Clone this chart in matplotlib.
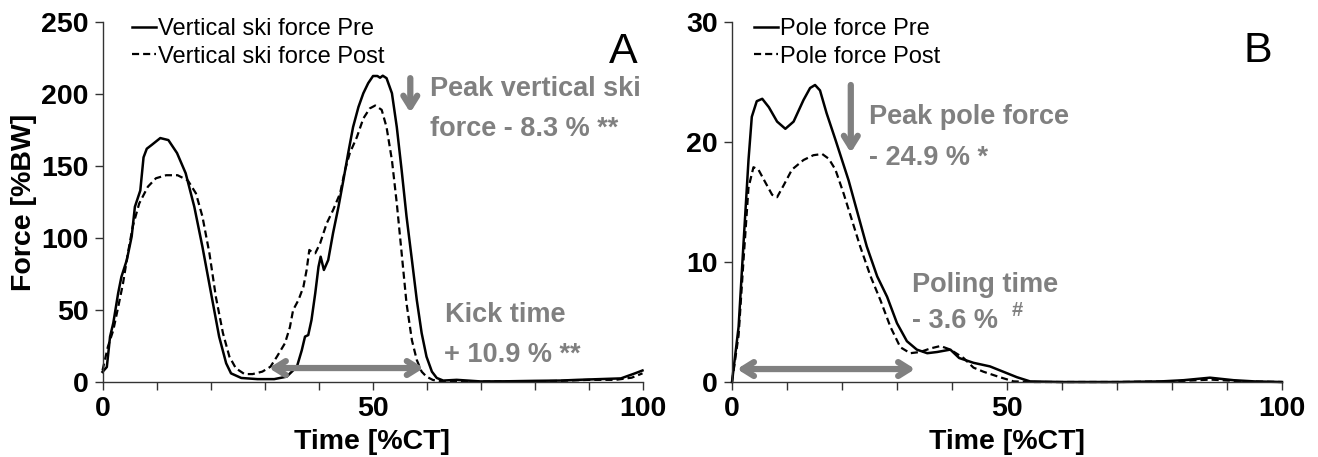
import matplotlib
matplotlib.use("Agg")
import matplotlib.pyplot as plt

plt.rcParams['font.family'] = ['Liberation Sans', 'DejaVu Sans']

# Panel A: vertical ski force [%BW] over time [%CT]
ski_pre_x = [0, 0.8, 1.4, 2.0, 2.9, 3.5, 4.5, 5.4, 6.0, 7.0, 7.6, 8.2, 9.1, 10.7, 12.2,
             13.8, 15.4, 17.0, 18.5, 20.1, 21.6, 22.9, 23.8, 25.7, 28.7, 31.8, 34.1,
             36.0, 36.9, 37.5, 38.1, 38.7, 39.4, 40.0, 40.4, 41.0, 41.8, 42.7, 43.7,
             44.6, 45.5, 46.4, 47.4, 48.3, 49.2, 50.1, 50.9, 51.4, 51.9, 52.6, 53.6,
             54.5, 55.4, 56.3, 57.3, 58.2, 59.1, 60.0, 61.0, 61.9, 63.1, 65.6, 70,
             75, 80, 84.8, 88, 92, 96, 98.6, 100]
ski_pre_y = [7, 10.4, 31.5, 41, 61.7, 73, 84.7, 101, 121.7, 133, 156, 162, 164.6, 169.4,
             168, 159, 145, 121.7, 94, 61.7, 31.5, 13, 6, 2.8, 2, 2, 3.7,
             10.6, 22, 31.5, 32.6, 43, 61.7, 80, 87, 77.8, 84.7, 103.5, 121.7,
             140, 159, 177, 191, 200.5, 207.5, 212.5, 212.5, 211.3, 212.7, 211, 200.5,
             177, 147, 115, 84.7, 57, 34, 17.6, 7.2, 2.8, 1, 1.5, 0.4,
             0.5, 0.8, 1, 1.5, 2, 2.5, 6, 8]
ski_post_x = [0, 1.0, 2.0, 2.9, 3.8, 4.7, 5.6, 6.8, 8.4, 9.9, 11.8, 13.9, 15.8, 17.3,
              18.5, 19.8, 21.0, 22.3, 23.5, 24.7, 26.3, 27.8, 29.6, 31.1, 32.3, 33.8,
              34.7, 35.3, 36.3, 37.2, 37.8, 38.3, 38.7, 39.4, 40.3, 41.5, 42.7, 44.0,
              44.9, 45.8, 47.1, 48.3, 49.5, 50.5, 51.7, 52.6, 53.6, 54.5, 55.4, 56.3,
              57.3, 58.2, 59.1, 60.0, 61.2, 63, 66, 70, 75, 80, 85, 90, 95, 98, 100]
ski_post_y = [8, 24.5, 36, 52, 68.5, 89.4, 108, 124, 135.6, 141.5, 143.6, 143.6, 140, 131,
              115, 89.4, 59, 34, 17.6, 9.5, 5.5, 5.5, 7.2, 10.6, 17.6, 27,
              38, 50, 57, 66, 77.8, 91.7, 90.5, 89.4, 96.3, 110, 119.4, 131,
              147, 159, 170, 183, 190, 192, 189, 177, 154, 124, 89.4, 54.6,
              29, 15.3, 7.2, 3.7, 1.4, 0.5, 0.4, 0.3, 0.4, 0.5, 0.8, 1.5, 1.5, 3, 6]

# Panel B: pole force [%BW] over time [%CT]
pole_pre_x = [0, 1.2, 2.1, 3.0, 3.6, 4.5, 5.5, 6.7, 8.2, 9.7, 11.2, 13.0, 14.2, 15.1,
              16.0, 17.2, 18.8, 20.0, 21.2, 22.7, 24.5, 26.4, 28.2, 30.0, 31.8, 33.6,
              35.5, 37.3, 39.7, 41.3, 43.9, 46.9, 49.3, 51.8, 54.2, 60, 70, 78, 82.1,
              86.9, 91.2, 95, 100]
pole_pre_y = [0, 4.6, 11.6, 18.5, 22.1, 23.4, 23.6, 22.9, 21.7, 21.1, 21.7, 23.5, 24.5, 24.75,
              24.3, 22.4, 20.2, 18.5, 16.8, 14.3, 11.3, 8.8, 7.1, 4.9, 3.4, 2.7,
              2.4, 2.5, 2.7, 2.0, 1.6, 1.3, 0.86, 0.4, 0.05, 0, 0, 0.05, 0.15,
              0.36, 0.15, 0.05, 0]
pole_post_x = [0, 1.2, 2.1, 3.0, 3.9, 4.8, 6.1, 7.3, 8.2, 9.4, 10.9, 13.0, 14.8, 16.4,
               17.6, 18.8, 20.3, 21.8, 23.3, 25.2, 27.0, 28.8, 30.6, 32.4, 34.2, 36.1,
               37.9, 39.7, 42.1, 43.9, 45.7, 48.7, 51.2, 55, 70, 80, 87, 93, 100]
pole_post_y = [0, 3.9, 10.2, 16.2, 17.9, 17.7, 16.6, 15.6, 15.4, 16.4, 17.7, 18.5, 18.9, 19.0,
               18.6, 17.7, 15.7, 13.5, 11.3, 8.8, 6.8, 4.6, 2.9, 2.4, 2.5, 2.8,
               3.0, 2.7, 2.0, 1.2, 0.86, 0.4, 0.05, 0, 0, 0.05, 0.2, 0.05, 0]

x_ticks = list(range(0, 101, 10))
x_labels = ['0', '', '', '', '', '50', '', '', '', '', '100']

GRAY = '#808080'
dash = (0, (3.2, 1.8))

fig = plt.figure(figsize=(13.18, 4.57), dpi=100)
axA = fig.add_axes([102.5 / 1318, 1 - 382 / 457, 540 / 1318, 360 / 457])
axB = fig.add_axes([732 / 1318, 1 - 382 / 457, 550 / 1318, 360 / 457])


def style(ax, ymax, yticks):
    ax.set_xlim(0, 100)
    ax.set_ylim(0, ymax)
    ax.set_xticks(x_ticks)
    ax.set_xticklabels(x_labels)
    ax.set_yticks(yticks)
    for s in ['top', 'right']:
        ax.spines[s].set_visible(False)
    for s in ['left', 'bottom']:
        ax.spines[s].set_color('#333333')
        ax.spines[s].set_linewidth(1.0)
    ax.tick_params(direction='out', length=6, width=1, color='#333333',
                   labelsize=20.5, pad=4)
    for lab in ax.get_xticklabels() + ax.get_yticklabels():
        lab.set_fontweight('bold')
    ax.set_xlabel('Time [%CT]', fontsize=20.5, fontweight='bold', labelpad=5)


# ---- A
axA.plot(ski_pre_x, ski_pre_y, color='black', lw=1.8, clip_on=False,
         label='Vertical ski force Pre')
axA.plot(ski_post_x, ski_post_y, color='black', lw=1.6, ls=dash, clip_on=False,
         label='Vertical ski force Post')
style(axA, 250, [0, 50, 100, 150, 200, 250])
axA.set_ylabel('Force [%BW]', fontsize=20.5, fontweight='bold', labelpad=3)
axA.legend(loc='upper left', bbox_to_anchor=(0.055, 1.01), frameon=False,
           fontsize=17, handlelength=1.0, handletextpad=0.1, labelspacing=0.22,
           borderpad=0, borderaxespad=0)
axA.text(96.5, 229, 'A', fontsize=31, ha='center', va='center')

axA.annotate('', xy=(57, 187), xytext=(57, 211),
             arrowprops=dict(arrowstyle='->,head_length=0.8,head_width=0.5',
                             color=GRAY, lw=4.5, shrinkA=0, shrinkB=0))
axA.annotate('', xy=(30.8, 9.7), xytext=(59.5, 9.7),
             arrowprops=dict(arrowstyle='<->,head_length=0.8,head_width=0.5',
                             color=GRAY, lw=4.5, shrinkA=0, shrinkB=0))
axA.text(60.7, 198.6, 'Peak vertical ski', color=GRAY, fontsize=19.5,
         fontweight='bold', va='baseline')
axA.text(60.7, 170.8, 'force - 8.3 % **', color=GRAY, fontsize=19.5,
         fontweight='bold', va='baseline')
axA.text(63.5, 41.7, 'Kick time', color=GRAY, fontsize=19.5,
         fontweight='bold', va='baseline')
axA.text(63.2, 13.9, '+ 10.9 % **', color=GRAY, fontsize=19.5,
         fontweight='bold', va='baseline')

# ---- B
axB.plot(pole_pre_x, pole_pre_y, color='black', lw=1.8, clip_on=False,
         label='Pole force Pre')
axB.plot(pole_post_x, pole_post_y, color='black', lw=1.6, ls=dash, clip_on=False,
         label='Pole force Post')
style(axB, 30, [0, 10, 20, 30])
axB.legend(loc='upper left', bbox_to_anchor=(0.04, 1.01), frameon=False,
           fontsize=17, handlelength=1.0, handletextpad=0.1, labelspacing=0.22,
           borderpad=0, borderaxespad=0)
axB.text(95.6, 27.6, 'B', fontsize=31, ha='center', va='center')

axB.annotate('', xy=(21.6, 19.1), xytext=(21.6, 24.75),
             arrowprops=dict(arrowstyle='->,head_length=0.8,head_width=0.5',
                             color=GRAY, lw=4.5, shrinkA=0, shrinkB=0))
axB.annotate('', xy=(0.9, 1.08), xytext=(33.3, 1.08),
             arrowprops=dict(arrowstyle='<->,head_length=0.8,head_width=0.5',
                             color=GRAY, lw=4.5, shrinkA=0, shrinkB=0))
axB.text(24.9, 21.5, 'Peak pole force', color=GRAY, fontsize=19.5,
         fontweight='bold', va='baseline')
axB.text(24.9, 18.1, '- 24.9 % *', color=GRAY, fontsize=19.5,
         fontweight='bold', va='baseline')
axB.text(32.7, 7.5, 'Poling time', color=GRAY, fontsize=19.5,
         fontweight='bold', va='baseline')
axB.text(32.7, 4.5, '- 3.6 %', color=GRAY, fontsize=19.5,
         fontweight='bold', va='baseline')
axB.text(50.8, 5.5, '#', color=GRAY, fontsize=14.5, fontweight='bold',
         va='baseline')

fig.savefig('out.png', dpi=100)
